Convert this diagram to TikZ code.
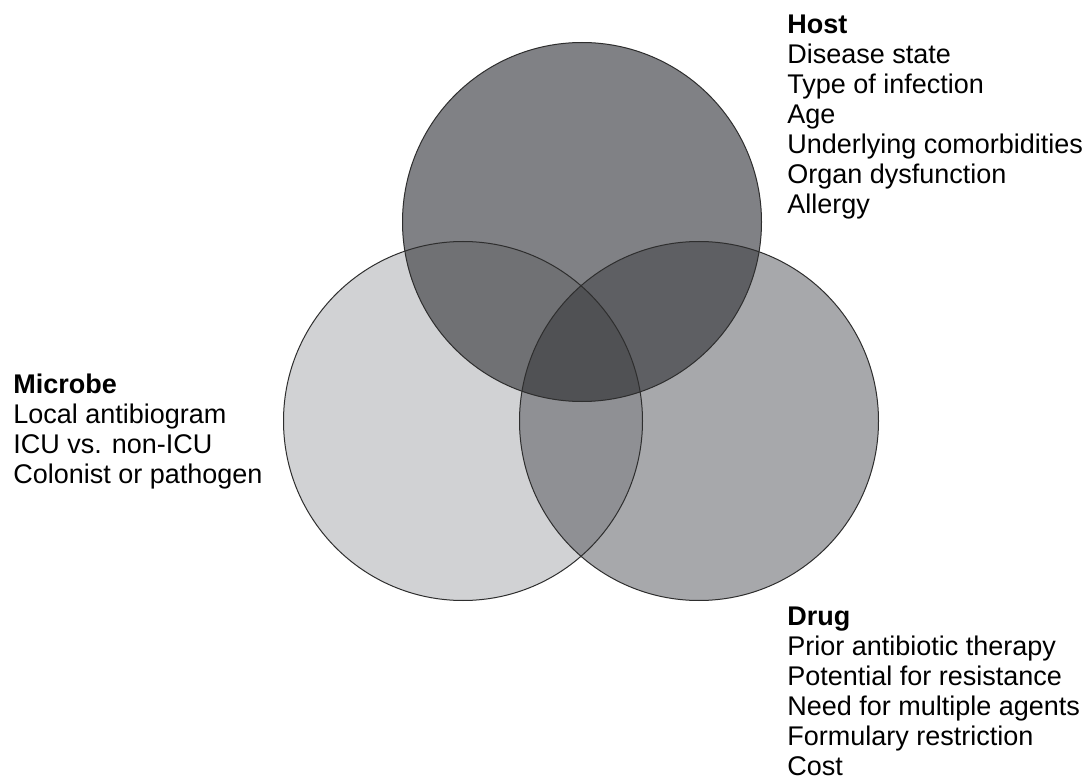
\documentclass[tikz,border=0pt]{standalone}
\usepackage{fontspec}
\setmainfont{Liberation Sans}
\usetikzlibrary{positioning}

\definecolor{microbegray}{HTML}{D1D2D4}
\definecolor{druggray}{HTML}{A7A8AB}
\definecolor{hostgray}{HTML}{808185}
\definecolor{hmgray}{HTML}{707174}
\definecolor{hdgray}{HTML}{5E5F63}
\definecolor{mdgray}{HTML}{8F9094}
\definecolor{coregray}{HTML}{505154}
\definecolor{rimgray}{HTML}{2E2E2E}

\newcommand{\setradius}{179.5pt}

\begin{document}
\begin{tikzpicture}[x=1pt,y=-1pt,semithick]
	  \tikzstyle{rim}=[draw=rimgray,line width=1pt]
	  % multi-line nodes sit on the baseline of their last line
	  \tikzstyle{factors}=[align=left,anchor=base west,inner sep=0pt,
	                       font=\fontsize{27}{30}\selectfont]

	  \useasboundingbox (0,0) rectangle (1088,778);

	  \coordinate (host)    at (582,222);
	  \coordinate (microbe) at (463,421);
	  \coordinate (drug)    at (699,421);

	  % single sets
	  \fill[microbegray] (microbe) circle (\setradius);
	  \fill[druggray]    (drug)    circle (\setradius);
	  \fill[hostgray]    (host)    circle (\setradius);

	  % pairwise overlaps
	  \begin{scope}
	    \clip (microbe) circle (\setradius);
	    \fill[hmgray] (host) circle (\setradius);
	    \fill[mdgray] (drug) circle (\setradius);
	  \end{scope}
	  \begin{scope}
	    \clip (host) circle (\setradius);
	    \clip (drug) circle (\setradius);
	    \fill[hdgray] (host) circle (\setradius);
	    \clip (microbe) circle (\setradius);
	    \fill[coregray] (host) circle (\setradius);
	  \end{scope}

	  \foreach \set in {host,microbe,drug}
	    \draw[rim] (\set) circle (\setradius);

	  \node[factors] (hostlist) at (787,214)
	    {\textbf{Host}\\Disease state\\Type of infection\\Age\\
	     Underlying comorbidities\\Organ dysfunction\\Allergy};
	  \node[factors] (microbelist) at (13,483)
	    {\textbf{Microbe}\\Local antibiogram\\ICU vs. non-ICU\\
	     Colonist or pathogen};
	  \node[factors] (druglist) at (787,775)
	    {\textbf{Drug}\\Prior antibiotic therapy\\Potential for resistance\\
	     Need for multiple agents\\Formulary restriction\\Cost};
	\end{tikzpicture}
\end{document}
